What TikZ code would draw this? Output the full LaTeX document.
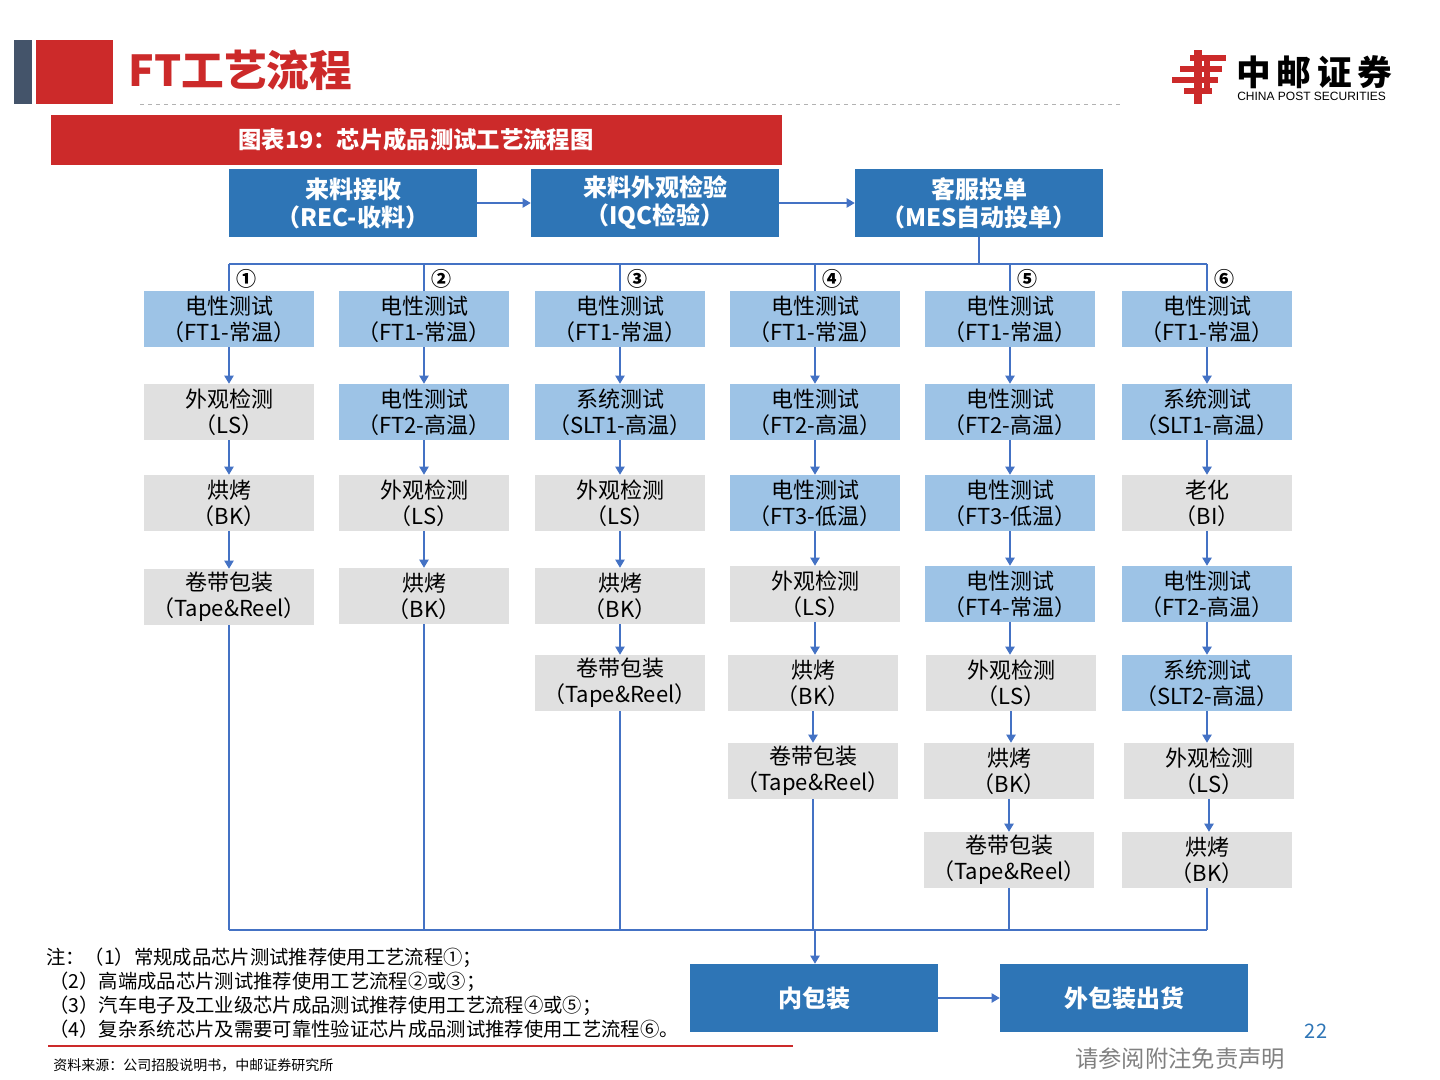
\documentclass[tikz,border=0pt]{standalone}
\usepackage{fontspec}
\setmainfont{Noto Sans CJK SC}
\newfontfamily\lat{Liberation Sans}
\usetikzlibrary{arrows.meta}
\definecolor{dblue}{HTML}{2E75B6}
\definecolor{lblue}{HTML}{9DC3E6}
\definecolor{gbox}{HTML}{E0E0E0}
\definecolor{aline}{HTML}{4472C4}
\definecolor{hred}{HTML}{CC2A2A}
\definecolor{dgray}{HTML}{44546A}
\tikzset{
 top/.style={fill=dblue,text=white,minimum width=186pt,minimum height=51pt,align=center,font=\fontsize{18}{21}\selectfont\bfseries,inner sep=0pt},
 lb/.style={fill=lblue,minimum width=127pt,minimum height=42pt,align=center,font=\fontsize{16.5}{19.5}\selectfont,inner sep=0pt},
 gb/.style={lb,fill=gbox},
 ar/.style={draw=aline,line width=0.8pt,-{Triangle[length=6pt,width=7pt]}},
 ln/.style={draw=aline,line width=0.8pt},
 num/.style={font=\fontsize{15}{15}\selectfont\bfseries,inner sep=0pt},
}
\begin{document}
\begin{tikzpicture}[x=0.75pt,y=-0.75pt]
\useasboundingbox (0,0) rectangle (1440,1080);
% header
\fill[dgray] (14,40) rectangle (32,104);
\fill[hred] (36,40) rectangle (113,104);
\node[anchor=west,text=hred,font=\fontsize{32}{32}\selectfont\bfseries,inner sep=0pt] (title) at (128,70) {FT工艺流程};
\draw[gray!60,dashed,line width=0.6pt] (140,104) -- (1122,104);
\fill[hred] (51,115) rectangle (782,165);
\node[text=white,font=\fontsize{17.5}{17.5}\selectfont\bfseries] (banner) at (416,140) {图表19：芯片成品测试工艺流程图};
% logo
\begin{scope}[hred]
\fill (1190,55) rectangle (1226,61);
\fill (1180,66) rectangle (1222,72);
\fill (1172,77) rectangle (1218,83);
\fill (1184,88) rectangle (1212,94);
\fill (1194,50) rectangle (1202,104);
\fill (1204,60) rectangle (1210,90);
\end{scope}
\node[anchor=west,font=\fontsize{26}{26}\selectfont\bfseries,inner sep=0pt] (logo) at (1236,72) {中\,邮\,证\,券};
\node[anchor=west,font=\lat\fontsize{9}{9}\selectfont,inner sep=0pt] (logoen) at (1237,96) {CHINA POST SECURITIES};
% top row
\node[top] (t1) at (353,203) {来料接收\\（REC-收料）};
\node[top] (t2) at (655,203) {来料外观检验\\（IQC检验）};
\node[top] (t3) at (979,203) {客服投单\\（MES自动投单）};
\draw[ar] (t1) -- (t2);
\draw[ar] (t2) -- (t3);
\coordinate (busr) at (979,264);
\draw[ln] (t3.south) -- (busr);
\draw[ln] (229,264) -- (1207,264);
% columns
\foreach \x/\n in {229/①,424/②,620/③,815/④,1010/⑤,1207/⑥}{
 \draw[ln] (\x,264) -- (\x,291);
 \node[num] at (\x+17,279) {\n};
}
% column 1
\node[lb] (a1) at (229,319) {电性测试\\（FT1-常温）};
\node[gb] (a2) at (229,412) {外观检测\\（LS）};
\node[gb] (a3) at (229,503) {烘烤\\（BK）};
\node[gb] (a4) at (229,597) {卷带包装\\（Tape\&Reel）};
% column 2
\node[lb] (b1) at (424,319) {电性测试\\（FT1-常温）};
\node[lb] (b2) at (424,412) {电性测试\\（FT2-高温）};
\node[gb] (b3) at (424,503) {外观检测\\（LS）};
\node[gb] (b4) at (424,596) {烘烤\\（BK）};
% column 3
\node[lb] (c1) at (620,319) {电性测试\\（FT1-常温）};
\node[lb] (c2) at (620,412) {系统测试\\（SLT1-高温）};
\node[gb] (c3) at (620,503) {外观检测\\（LS）};
\node[gb] (c4) at (620,596) {烘烤\\（BK）};
\node[gb] (c5) at (620,683) {卷带包装\\（Tape\&Reel）};
% column 4
\node[lb] (d1) at (815,319) {电性测试\\（FT1-常温）};
\node[lb] (d2) at (815,412) {电性测试\\（FT2-高温）};
\node[lb] (d3) at (815,503) {电性测试\\（FT3-低温）};
\node[gb] (d4) at (815,594) {外观检测\\（LS）};
\node[gb] (d5) at (813,683) {烘烤\\（BK）};
\node[gb] (d6) at (813,771) {卷带包装\\（Tape\&Reel）};
% column 5
\node[lb] (e1) at (1010,319) {电性测试\\（FT1-常温）};
\node[lb] (e2) at (1010,412) {电性测试\\（FT2-高温）};
\node[lb] (e3) at (1010,503) {电性测试\\（FT3-低温）};
\node[lb] (e4) at (1010,594) {电性测试\\（FT4-常温）};
\node[gb] (e5) at (1011,683) {外观检测\\（LS）};
\node[gb] (e6) at (1009,771) {烘烤\\（BK）};
\node[gb] (e7) at (1009,860) {卷带包装\\（Tape\&Reel）};
% column 6
\node[lb] (f1) at (1207,319) {电性测试\\（FT1-常温）};
\node[lb] (f2) at (1207,412) {系统测试\\（SLT1-高温）};
\node[gb] (f3) at (1207,503) {老化\\（BI）};
\node[lb] (f4) at (1207,594) {电性测试\\（FT2-高温）};
\node[lb] (f5) at (1207,683) {系统测试\\（SLT2-高温）};
\node[gb] (f6) at (1209,771) {外观检测\\（LS）};
\node[gb] (f7) at (1207,860) {烘烤\\（BK）};
% arrows
\foreach \a/\b in {a1/a2,a2/a3,a3/a4,b1/b2,b2/b3,b3/b4,c1/c2,c2/c3,c3/c4,c4/c5,d1/d2,d2/d3,d3/d4,d4/d5,d5/d6,e1/e2,e2/e3,e3/e4,e4/e5,e5/e6,e6/e7,f1/f2,f2/f3,f3/f4,f4/f5,f5/f6,f6/f7}
 \draw[ar] (\a.south) -- (\a.south |- \b.north);
% bottom bus
\foreach \e in {a4,b4,c5,d6,e7,f7}
 \draw[ln] (\e.south) -- (\e.south |- 0,930);
\draw[ln] (229,930) -- (1207,930);
\node[top,minimum height=51pt] (p1) at (814,998) {内包装};
\node[top] (p2) at (1124,998) {外包装出货};
\coordinate (bj) at (815,930);
\draw[ar] (bj) -- (p1.north -| bj);
\draw[ar] (p1) -- (p2);
% notes
\node[anchor=north west,align=left,font=\fontsize{14.5}{18}\selectfont,inner sep=0pt] (notes) at (46,948) {注：（1）常规成品芯片测试推荐使用工艺流程①；\\\,（2）高端成品芯片测试推荐使用工艺流程②或③；\\\,（3）汽车电子及工业级芯片成品测试推荐使用工艺流程④或⑤；\\\,（4）复杂系统芯片及需要可靠性验证芯片成品测试推荐使用工艺流程⑥。};
\draw[hred,line width=1pt] (48,1046) -- (793,1046);
\node[anchor=west,font=\fontsize{10.5}{11}\selectfont,inner sep=0pt] (src) at (53,1065) {资料来源：公司招股说明书，中邮证券研究所};
\node[text=dblue,font=\fontsize{15}{15}\selectfont,inner sep=0pt] (pg) at (1316,1031) {22};
\node[text=gray,font=\fontsize{17.5}{17.5}\selectfont,inner sep=0pt] (disc) at (1180,1059) {请参阅附注免责声明};
\end{tikzpicture}
\end{document}
